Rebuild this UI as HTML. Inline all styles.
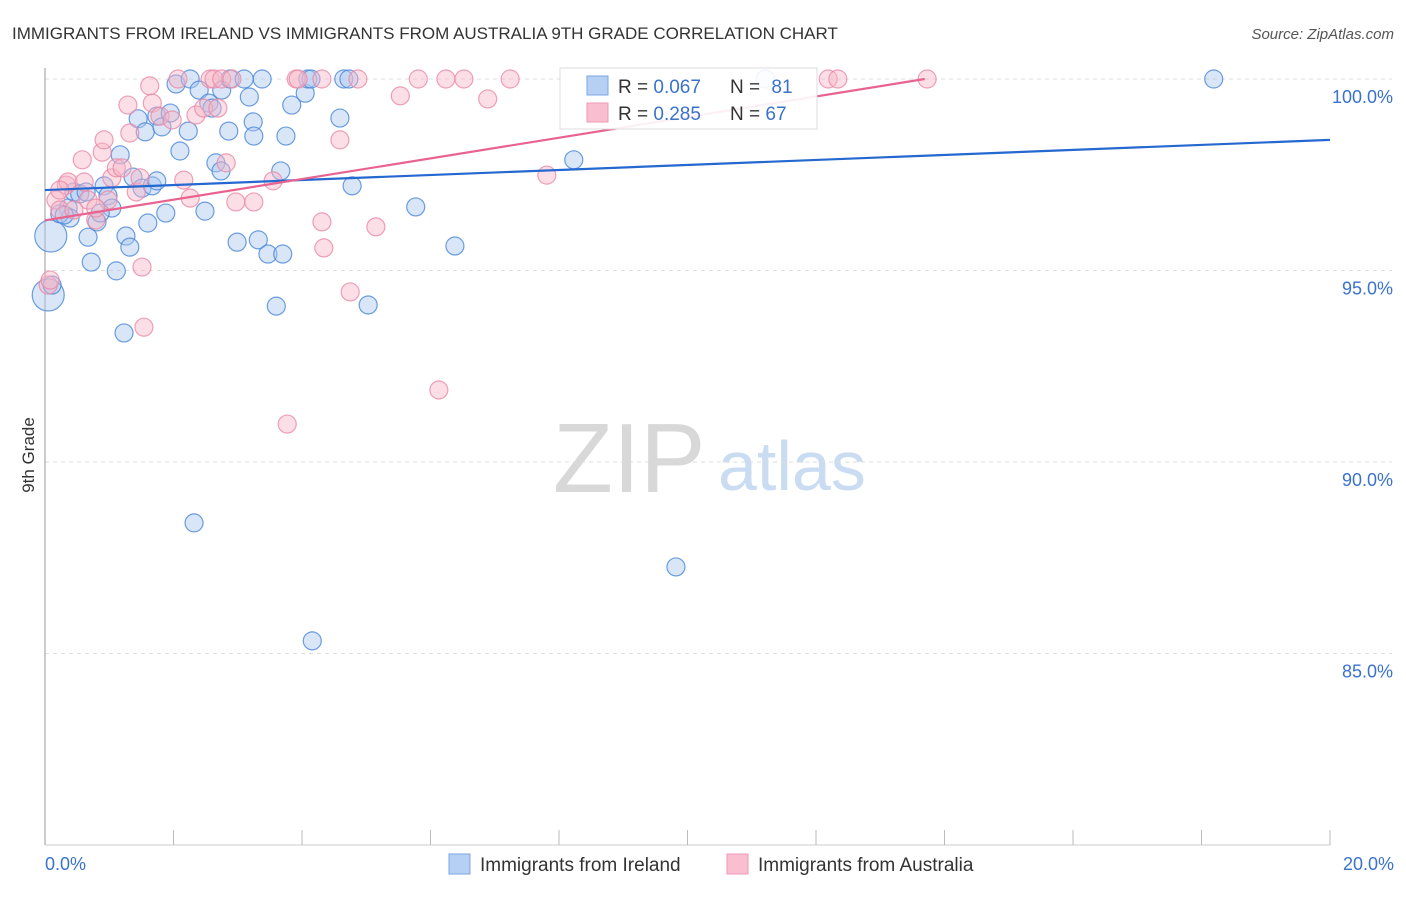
<!DOCTYPE html>
<html><head><meta charset="utf-8"><style>
body{margin:0;background:#fff;font-family:"Liberation Sans",sans-serif;}
svg text{font-family:"Liberation Sans",sans-serif;}
</style></head><body>
<svg id="chart" width="1406" height="892" xmlns="http://www.w3.org/2000/svg">
<text x="12" y="39" font-size="17" fill="#333">IMMIGRANTS FROM IRELAND VS IMMIGRANTS FROM AUSTRALIA 9TH GRADE CORRELATION CHART</text>
<text x="1394" y="39" font-size="15" fill="#555" font-style="italic" text-anchor="end">Source: ZipAtlas.com</text>
<g>
<text x="553" y="492" font-size="98" font-family="Liberation Serif" fill="#d8d8d8">ZIP</text>
<text x="718" y="490" font-size="70" fill="#c9dcf2">atlas</text>
</g>
<g id="grid"></g>
<g id="axes"></g>
<g id="pts-blue"></g>
<g id="pts-pink"></g>
<g id="trends"></g>
<g>
<rect x="560" y="68" width="257" height="61" fill="#fff" fill-opacity="0.9" stroke="#ddd"/>
<rect x="587" y="76" width="21" height="19" fill="#b5d0f3" stroke="#7aa6e0"/>
<rect x="587" y="103" width="21" height="19" fill="#f9bfd0" stroke="#ef9ab3"/>
<text x="618" y="93" font-size="19" fill="#333">R = <tspan fill="#3a72cc">0.067</tspan></text>
<text x="730" y="93" font-size="19" fill="#333">N = <tspan fill="#3a72cc" dx="6">81</tspan></text>
<text x="618" y="120" font-size="19" fill="#333">R = <tspan fill="#3a72cc">0.285</tspan></text>
<text x="730" y="120" font-size="19" fill="#333">N = <tspan fill="#3a72cc">67</tspan></text>
</g>
<g>
<rect x="449" y="854" width="21" height="20" fill="#b5d0f3" stroke="#7aa6e0"/>
<text x="480" y="871" font-size="19" fill="#333">Immigrants from Ireland</text>
<rect x="727" y="854" width="21" height="20" fill="#f9bfd0" stroke="#ef9ab3"/>
<text x="758" y="871" font-size="19" fill="#333">Immigrants from Australia</text>
</g>
<text transform="translate(34,455) rotate(-90)" font-size="17" fill="#333" text-anchor="middle">9th Grade</text>
</svg>
<script>
const yTicks=[100,95,90,85];
const yTickLabels=["100.0%","95.0%","90.0%","85.0%"];
const xTickLabels=["0.0%","20.0%"];
const irelandX=[.09,.05,.11,.36,.39,.45,.54,.67,.72,.81,.92,.98,1.04,1.11,1.17,1.23,1.26,1.32,1.37,1.45,1.51,1.56,1.60,1.67,1.74,1.74,1.82,1.88,1.95,2.04,2.10,2.23,2.26,2.32,2.40,2.49,2.55,2.60,2.66,2.74,2.75,2.86,2.88,2.99,3.10,3.18,3.24,3.25,3.32,3.38,3.47,3.67,3.70,3.60,3.75,3.84,4.05,4.09,4.14,4.16,4.59,4.65,4.73,4.78,5.03,5.77,6.38,8.23,9.82,11.21,18.19,.23,.64,.86,.30];
const irelandY=[95.90,94.36,94.62,96.63,96.37,97.05,97.00,95.87,95.22,96.27,97.21,96.95,96.63,94.99,98.02,93.37,95.90,95.61,97.44,98.96,97.15,98.62,96.24,97.21,97.34,99.03,98.75,96.50,99.11,99.87,98.12,98.64,100,88.41,99.71,96.55,99.37,99.24,97.81,97.60,99.71,98.64,100,95.74,100,99.53,98.88,98.51,95.80,100,95.43,97.60,95.43,94.07,98.51,99.32,99.63,100,100,85.33,98.98,100,100,97.21,94.10,96.66,95.64,97.89,87.26,100,100,96.48,97.05,96.50,96.45];
const irelandBig=[1,1,0,0,0,0,0,0,0,0,0,0,0,0,0,0,0,0,0,0,0,0,0,0,0,0,0,0,0,0,0,0,0,0,0,0,0,0,0,0,0,0,0,0,0,0,0,0,0,0,0,0,0,0,0,0,0,0,0,0,0,0,0,0,0,0,0,0,0,0,0,0,0,0,0];
const australiaX=[.05,.08,.17,.23,.33,.36,.58,.67,.79,.89,.92,.98,1.04,1.11,1.20,1.29,1.32,1.42,1.48,1.54,1.51,1.63,1.67,1.79,1.98,2.07,2.16,2.26,2.35,2.47,2.57,2.63,2.69,2.75,2.82,2.97,2.91,3.25,3.55,3.77,3.91,3.94,4.31,4.34,4.31,4.59,4.75,4.87,5.15,5.53,5.81,6.13,6.24,6.52,6.89,7.24,7.81,12.19,12.34,13.73,.79,.61,.45,.23];
const australiaY=[94.62,94.75,96.84,96.58,97.23,97.31,97.89,96.84,96.32,98.09,98.41,96.84,97.42,97.68,97.68,99.32,98.59,97.05,97.42,93.52,95.09,99.82,99.37,99.03,98.93,100,97.36,96.89,99.06,99.24,100,100,99.24,100,97.81,96.79,100,96.79,97.34,90.99,100,100,96.27,95.59,100,98.41,94.44,100,96.14,99.56,100,91.88,100,100,99.48,100,97.49,100,100,100,96.63,97.31,96.58,97.10];
const trendIreland=[97.10,98.41];
const trendAustralia=[96.31,101.70];
const NS="http://www.w3.org/2000/svg";
const X0=45,X1=1330,Y100=79,PXPER=38.3;
function xs(v){return X0+(v/20)*(X1-X0);}
function ys(v){return Y100+(100-v)*PXPER;}
function mk(tag,attrs,parent){const e=document.createElementNS(NS,tag);for(const k in attrs)e.setAttribute(k,attrs[k]);parent.appendChild(e);return e;}
const grid=document.getElementById('grid'),axes=document.getElementById('axes');
yTicks.forEach((t,i)=>{
 const l=mk('line',{x1:X0,x2:1392,y1:ys(t),y2:ys(t),stroke:'#ddd','stroke-dasharray':'4,4'},grid);
 
 
 const tx=mk('text',{x:1393,y:ys(t)+24,'font-size':18,fill:'#3a72cc','text-anchor':'end'},axes);
 tx.textContent=yTickLabels[i];
 
 
});
const la=mk('line',{x1:X0,x2:X0,y1:68,y2:845,stroke:'#bbb','stroke-width':1.5},axes);


const lb=mk('line',{x1:X0,x2:X1,y1:845,y2:845,stroke:'#ccc'},axes);


for(let i=0;i<=10;i++){const t=mk('line',{x1:xs(i*2),x2:xs(i*2),y1:830,y2:845,stroke:'#bbb'},axes);
 
 }
const xl0=mk('text',{x:45,y:870,'font-size':18,fill:'#3a72cc'},axes);xl0.textContent=xTickLabels[0];


const xl1=mk('text',{x:1394,y:870,'font-size':18,fill:'#3a72cc','text-anchor':'end'},axes);xl1.textContent=xTickLabels[1];


function drawPts(gid,X,Y,fill,stroke,big){const g=document.getElementById(gid);
 X.forEach((x,i)=>{const c=mk('circle',{cx:xs(x),cy:ys(Y[i]),r:(big&&big[i])?16:9,fill:fill,'fill-opacity':0.45,stroke:stroke,'stroke-opacity':0.8,'stroke-width':1.2},g);
 
 });}
drawPts('pts-blue',irelandX,irelandY,'#a9c8f0','#4a86d8',irelandBig);
drawPts('pts-pink',australiaX,australiaY,'#f7b6c8','#e88aa6',null);
const tr=document.getElementById('trends');
const t1=mk('line',{x1:xs(0),y1:ys(trendIreland[0]),x2:xs(20),y2:ys(trendIreland[1]),stroke:'#2468d0','stroke-width':2.2},tr);


const slope=(trendAustralia[1]-trendAustralia[0])/20;const xe=Math.min(20,(100-trendAustralia[0])/slope);
const t2=mk('line',{x1:xs(0),y1:ys(trendAustralia[0]),x2:xs(xe),y2:ys(trendAustralia[0]+slope*xe),stroke:'#e8638f','stroke-width':2.2},tr);


</script>
</body></html>
